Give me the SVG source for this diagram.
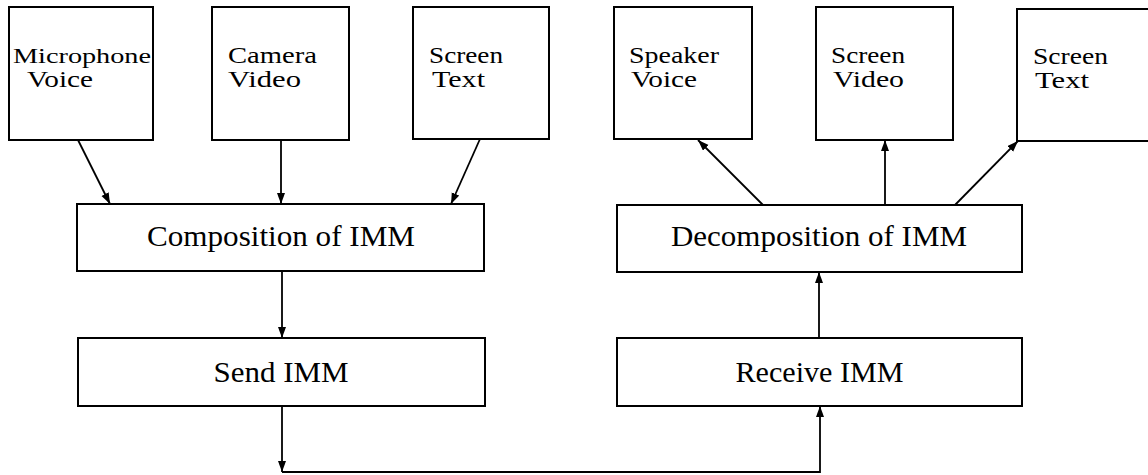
<svg xmlns="http://www.w3.org/2000/svg" width="1148" height="475" viewBox="0 0 1148 475">
  <style>
    .box { fill: #ffffff; stroke: #000000; stroke-width: 2; }
    .lbl { font-family: "Liberation Serif", "Times New Roman", serif; font-size: 24px; fill: #000000; }
    .mid { font-family: "Liberation Serif", "Times New Roman", serif; font-size: 29px; fill: #000000; text-anchor: middle; }
    .conn { fill: none; stroke: #000000; stroke-width: 1.8; }
  </style>
  <defs>
    <marker id="arrow" markerUnits="userSpaceOnUse" markerWidth="12" markerHeight="9" refX="11" refY="4" orient="auto">
      <path d="M0,0 L11,4 L0,8 z" fill="#000000"/>
    </marker>
  </defs>
  <rect width="1148" height="475" fill="#ffffff"/>

  <g id="microphone-voice">
    <rect class="box" x="9" y="7" width="144" height="133"/>
    <text class="lbl"><tspan x="13" y="63" textLength="138" lengthAdjust="spacingAndGlyphs" style="font-size:21px">Microphone</tspan><tspan x="27" y="87" textLength="66" lengthAdjust="spacingAndGlyphs">Voice</tspan></text>
  </g>
  <g id="camera-video">
    <rect class="box" x="212" y="7" width="137" height="133"/>
    <text class="lbl"><tspan x="228" y="63" textLength="89" lengthAdjust="spacingAndGlyphs">Camera</tspan><tspan x="228" y="87" textLength="73" lengthAdjust="spacingAndGlyphs">Video</tspan></text>
  </g>
  <g id="screen-text-in">
    <rect class="box" x="413" y="7" width="136" height="132"/>
    <text class="lbl"><tspan x="429" y="63" textLength="74" lengthAdjust="spacingAndGlyphs">Screen</tspan><tspan x="432" y="87" textLength="53" lengthAdjust="spacingAndGlyphs">Text</tspan></text>
  </g>
  <g id="speaker-voice">
    <rect class="box" x="614" y="7" width="138" height="132"/>
    <text class="lbl"><tspan x="629" y="63" textLength="90" lengthAdjust="spacingAndGlyphs">Speaker</tspan><tspan x="631" y="87" textLength="66" lengthAdjust="spacingAndGlyphs">Voice</tspan></text>
  </g>
  <g id="screen-video">
    <rect class="box" x="816" y="7" width="137" height="133"/>
    <text class="lbl"><tspan x="831" y="63" textLength="74" lengthAdjust="spacingAndGlyphs">Screen</tspan><tspan x="833" y="87" textLength="71" lengthAdjust="spacingAndGlyphs">Video</tspan></text>
  </g>
  <g id="screen-text-out">
    <rect class="box" x="1017" y="9" width="145" height="132"/>
    <text class="lbl"><tspan x="1033" y="64" textLength="75" lengthAdjust="spacingAndGlyphs">Screen</tspan><tspan x="1035" y="88" textLength="54" lengthAdjust="spacingAndGlyphs">Text</tspan></text>
  </g>

  <g id="composition">
    <rect class="box" x="77" y="204" width="407" height="67"/>
    <text class="mid" x="281" y="246" textLength="268" lengthAdjust="spacingAndGlyphs">Composition of IMM</text>
  </g>
  <g id="send">
    <rect class="box" x="78" y="338" width="407" height="68"/>
    <text class="mid" x="281" y="382" textLength="135" lengthAdjust="spacingAndGlyphs">Send IMM</text>
  </g>
  <g id="decomposition">
    <rect class="box" x="617" y="205" width="405" height="67"/>
    <text class="mid" x="819" y="246" textLength="296" lengthAdjust="spacingAndGlyphs">Decomposition of IMM</text>
  </g>
  <g id="receive">
    <rect class="box" x="617" y="338" width="405" height="68"/>
    <text class="mid" x="819.5" y="382" textLength="168" lengthAdjust="spacingAndGlyphs">Receive IMM</text>
  </g>

  <g id="connectors">
    <line class="conn" x1="78" y1="140" x2="110" y2="204" marker-end="url(#arrow)"/>
    <line class="conn" x1="281" y1="140" x2="281" y2="204" marker-end="url(#arrow)"/>
    <line class="conn" x1="480" y1="139" x2="451" y2="204" marker-end="url(#arrow)"/>
    <line class="conn" x1="282" y1="271" x2="282" y2="338" marker-end="url(#arrow)"/>
    <line class="conn" x1="282" y1="406" x2="282" y2="472" marker-end="url(#arrow)"/>
    <polyline class="conn" points="282,472 820,472 820,406" marker-end="url(#arrow)"/>
    <line class="conn" x1="819" y1="338" x2="819" y2="272" marker-end="url(#arrow)"/>
    <line class="conn" x1="763" y1="205" x2="698" y2="140" marker-end="url(#arrow)"/>
    <line class="conn" x1="885" y1="205" x2="885" y2="140" marker-end="url(#arrow)"/>
    <line class="conn" x1="955" y1="205" x2="1018" y2="141" marker-end="url(#arrow)"/>
  </g>
</svg>
